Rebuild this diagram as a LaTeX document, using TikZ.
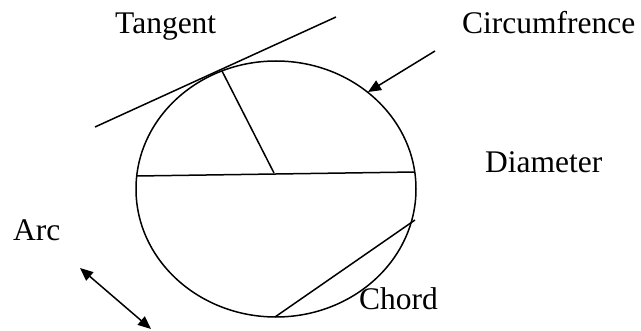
\documentclass[tikz,border=0pt]{standalone}
\usepackage{fontspec}
\setmainfont{Liberation Serif}
\usetikzlibrary{arrows.meta}
\begin{document}
\begin{tikzpicture}[x=1pt,y=-1pt,
  lbl/.style={anchor=base west,inner sep=0pt,font=\fontsize{31.5}{36}\selectfont},
  ln/.style={line width=1.5pt},
  arr/.style={ln,-{Triangle[length=13pt,width=11pt]}},
  darr/.style={ln,{Triangle[length=13pt,width=11pt]}-{Triangle[length=13pt,width=11pt]}}]
\useasboundingbox (0,0) rectangle (641,331);
% circle
\draw[ln] (276,189) ellipse [x radius=140, y radius=128];
% points
\coordinate (tA) at (95,127);
\coordinate (tB) at (336,17);
\coordinate (tP) at (222,71);
\coordinate (ctr) at (274,173);
\coordinate (dL) at (137,176);
\coordinate (dR) at (415,172);
\coordinate (cA) at (275,317);
\coordinate (cB) at (415,220);
\coordinate (circS) at (435,51);
\coordinate (circE) at (368,92);
\coordinate (arcA) at (80,268);
\coordinate (arcB) at (151,329);
% lines
\draw[ln] (tA) -- (tB);
\draw[ln] (tP) -- (ctr);
\draw[ln] (dL) -- (dR);
\draw[ln] (cA) -- (cB);
\draw[arr] (circS) -- (circE);
\draw[darr] (arcA) -- (arcB);
% labels
\node[lbl] (tangent) at (115,34) {Tangent};
\node[lbl] (circum) at (462,34) {Circumfrence};
\node[lbl] (diam) at (485,173) {Diameter};
\node[lbl] (arc) at (13,241) {Arc};
\node[lbl] (chord) at (359,310) {Chord};
\end{tikzpicture}
\end{document}
